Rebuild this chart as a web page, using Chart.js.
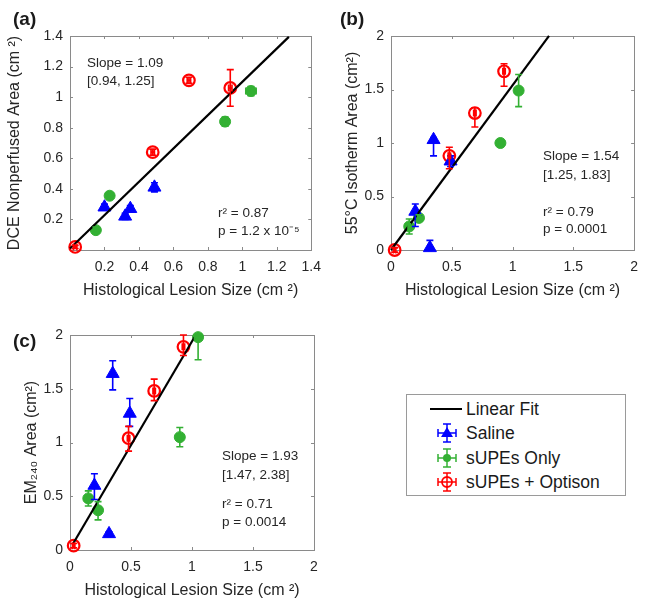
<!DOCTYPE html>
<html>
<head>
<meta charset="utf-8">
<script src="https://cdn.jsdelivr.net/npm/chart.js@4.4.1/dist/chart.umd.min.js"></script>
<style>
  html, body { margin: 0; padding: 0; background: #fff; }
  #wrap { position: relative; width: 647px; height: 602px; overflow: hidden; font-family: "Liberation Sans", Arial, sans-serif; color: #262626; }
  canvas { position: absolute; }
  .plabel { position: absolute; font-weight: bold; font-size: 19px; color: #1a1a1a; line-height: 1; }
  #legend { position: absolute; left: 406px; top: 394px; width: 218px; height: 100px; border: 1px solid #9a9a9a; background: #fff; }
  .lrow { position: absolute; left: 0; height: 20px; font-size: 17.5px; line-height: 20px; color: #1a1a1a; }
  .lrow span { position: absolute; left: 59px; white-space: nowrap; }
  .lrow svg { position: absolute; left: 22px; top: 0; }
</style>
</head>
<body>
<div id="wrap">
  <canvas id="ca" width="330" height="300" style="left:0;top:0"></canvas>
  <canvas id="cb" width="326" height="300" style="left:321px;top:0"></canvas>
  <canvas id="cc" width="330" height="302" style="left:0;top:300px"></canvas>
  <div class="plabel" style="left:13px;top:9px">(a)</div>
  <div class="plabel" style="left:340px;top:9px">(b)</div>
  <div class="plabel" style="left:13px;top:331px">(c)</div>
  <div id="legend">
    <div class="lrow" style="top:4px"><svg width="36" height="20"><line x1="1" y1="10" x2="33" y2="10" stroke="#000" stroke-width="2"/></svg><span>Linear Fit</span></div>
    <div class="lrow" style="top:28px"><svg width="36" height="20"><g stroke="#0000ff" stroke-width="1.5"><line x1="18" y1="1" x2="18" y2="19"/><line x1="14" y1="1" x2="22" y2="1"/><line x1="14" y1="19" x2="22" y2="19"/><line x1="9" y1="10" x2="27" y2="10"/><line x1="9" y1="6" x2="9" y2="14"/><line x1="27" y1="6" x2="27" y2="14"/></g><polygon points="18,4 24,14 12,14" fill="#0000ff"/></svg><span>Saline</span></div>
    <div class="lrow" style="top:53px"><svg width="36" height="20"><g stroke="#33b033" stroke-width="1.5"><line x1="18" y1="1" x2="18" y2="19"/><line x1="14" y1="1" x2="22" y2="1"/><line x1="14" y1="19" x2="22" y2="19"/><line x1="9" y1="10" x2="27" y2="10"/><line x1="9" y1="6" x2="9" y2="14"/><line x1="27" y1="6" x2="27" y2="14"/></g><circle cx="18" cy="10" r="4" fill="#33b033"/></svg><span>sUPEs Only</span></div>
    <div class="lrow" style="top:77px"><svg width="36" height="20"><g stroke="#ff0000" stroke-width="1.5"><line x1="18" y1="1" x2="18" y2="19"/><line x1="14" y1="1" x2="22" y2="1"/><line x1="14" y1="19" x2="22" y2="19"/><line x1="9" y1="10" x2="27" y2="10"/><line x1="9" y1="6" x2="9" y2="14"/><line x1="27" y1="6" x2="27" y2="14"/></g><circle cx="18" cy="10" r="5" fill="none" stroke="#ff0000" stroke-width="1.8"/></svg><span>sUPEs + Optison</span></div>
  </div>
</div>
<script>
// ---------- DATA ----------
// Histological lesion size (cm^2), per group
const salineX  = [0.20, 0.32, 0.35, 0.49];
const supesX   = [0.15, 0.23, 0.90, 1.05];
const optisonX = [0.03, 0.48, 0.69, 0.93];
const salineXErr  = [0.01, 0.01, 0.01, 0.01];
const supesXErr   = [0.01, 0.01, 0.01, 0.03];
const optisonXErr = [0.01, 0.01, 0.01, 0.01];

// (a) DCE nonperfused area
const dceSaline  = [0.28, 0.22, 0.27, 0.41];
const dceSupes   = [0.13, 0.355, 0.84, 1.04];
const dceOptison = [0.02, 0.64, 1.11, 1.06];
const dceSalineLo  = [0.02, 0.02, 0.02, 0.03], dceSalineHi  = [0.02, 0.02, 0.02, 0.03];
const dceSupesLo   = [0.02, 0.02, 0.03, 0.03], dceSupesHi   = [0.02, 0.02, 0.03, 0.03];
const dceOptisonLo = [0.01, 0.02, 0.02, 0.12], dceOptisonHi = [0.01, 0.02, 0.02, 0.12];

// (b) 55°C isotherm area
const isoSaline  = [0.36, 0.02, 1.03, 0.83];
const isoSupes   = [0.22, 0.30, 1.00, 1.49];
const isoOptison = [0.00, 0.88, 1.28, 1.67];
const isoSalineLo  = [0.14, 0.00, 0.15, 0.05], isoSalineHi  = [0.07, 0.07, 0.02, 0.05];
const isoSupesLo   = [0.07, 0.03, 0.02, 0.15], isoSupesHi   = [0.07, 0.03, 0.02, 0.15];
const isoOptisonLo = [0.02, 0.12, 0.13, 0.14], isoOptisonHi = [0.02, 0.08, 0.05, 0.07];

// (c) EM240 area
const emSaline  = [0.60, 0.15, 1.64, 1.27];
const emSupes   = [0.48, 0.37, 1.05, 1.98];
const emOptison = [0.04, 1.04, 1.48, 1.89];
const emSalineLo  = [0.13, 0.02, 0.15, 0.12], emSalineHi  = [0.11, 0.02, 0.12, 0.14];
const emSupesLo   = [0.07, 0.09, 0.09, 0.21], emSupesHi   = [0.07, 0.08, 0.09, 0.02];
const emOptisonLo = [0.02, 0.12, 0.09, 0.08], emOptisonHi = [0.02, 0.11, 0.11, 0.11];

// Linear fits: slope, intercept, x-range
const fitA = { slope: 1.09, intercept: 0.01, x0: 0.00, x1: 1.27 };
const fitB = { slope: 1.54, intercept: 0.00, x0: 0.00, x1: 1.30 };
const fitC = { slope: 1.93, intercept: 0.01, x0: 0.02, x1: 1.02 };

// Tick values / labels
const ticksA = [0.2, 0.4, 0.6, 0.8, 1, 1.2, 1.4];
const ticksALabels = ['0.2', '0.4', '0.6', '0.8', '1', '1.2', '1.4'];
const ticksBC = [0, 0.5, 1, 1.5, 2];
const ticksBCLabels = ['0', '0.5', '1', '1.5', '2'];

const annotA = ['Slope = 1.09', '[0.94, 1.25]', 'r\u00B2 = 0.87', 'p = 1.2 x 10\u207B\u2075'];
const annotB = ['Slope = 1.54', '[1.25, 1.83]', 'r\u00B2 = 0.79', 'p = 0.0001'];
const annotC = ['Slope = 1.93', '[1.47, 2.38]', 'r\u00B2 = 0.71', 'p = 0.0014'];

// ---------- STYLE ----------
const BLUE = '#0000ff', GREEN = '#33b033', RED = '#ff0000';
const FONT = '"Liberation Sans", Arial, sans-serif';
const TXT = '#262626';
const BOX = '#8a8a8a';

function pts(xs, ys) { return xs.map((x, i) => ({ x: x, y: ys[i] })); }
function fitPts(f) { return [f.x0, f.x1].map(x => ({ x: x, y: f.slope * x + f.intercept })); }

const errorBars = {
  id: 'errorBars',
  afterDatasetsDraw(chart) {
    const ctx = chart.ctx, xs = chart.scales.x, ys = chart.scales.y;
    chart.data.datasets.forEach(ds => {
      if (!ds.err) return;
      ctx.save();
      ctx.strokeStyle = ds.borderColor; ctx.lineWidth = 1.6;
      ds.data.forEach((p, j) => {
        const px = xs.getPixelForValue(p.x), py = ys.getPixelForValue(p.y);
        const yl = ys.getPixelForValue(p.y - ds.err.lo[j]), yh = ys.getPixelForValue(p.y + ds.err.hi[j]);
        const xl = xs.getPixelForValue(p.x - ds.err.x[j]), xh = xs.getPixelForValue(p.x + ds.err.x[j]);
        const c = 3.5;
        ctx.beginPath();
        ctx.moveTo(px, yl); ctx.lineTo(px, yh);
        ctx.moveTo(px - c, yl); ctx.lineTo(px + c, yl);
        ctx.moveTo(px - c, yh); ctx.lineTo(px + c, yh);
        ctx.moveTo(xl, py); ctx.lineTo(xh, py);
        ctx.moveTo(xl, py - c); ctx.lineTo(xl, py + c);
        ctx.moveTo(xh, py - c); ctx.lineTo(xh, py + c);
        ctx.stroke();
      });
      ctx.restore();
    });
  }
};

const boxPlugin = {
  id: 'boxPlugin',
  beforeDatasetsDraw(chart) {
    const ctx = chart.ctx, a = chart.chartArea;
    ctx.save();
    ctx.strokeStyle = BOX; ctx.lineWidth = 1;
    ctx.strokeRect(Math.round(a.left) + 0.5, Math.round(a.top) + 0.5, Math.round(a.right - a.left), Math.round(a.bottom - a.top));
    const tl = 3;
    ctx.beginPath();
    chart.scales.x.ticks.forEach(t => {
      const x = Math.round(chart.scales.x.getPixelForValue(t.value)) + 0.5;
      ctx.moveTo(x, a.bottom); ctx.lineTo(x, a.bottom - tl);
      ctx.moveTo(x, a.top); ctx.lineTo(x, a.top + tl);
    });
    chart.scales.y.ticks.forEach(t => {
      const y = Math.round(chart.scales.y.getPixelForValue(t.value)) + 0.5;
      ctx.moveTo(a.left, y); ctx.lineTo(a.left + tl, y);
      ctx.moveTo(a.right, y); ctx.lineTo(a.right - tl, y);
    });
    ctx.stroke();
    ctx.restore();
  }
};

const annotPlugin = {
  id: 'annot',
  afterDraw(chart, args, opts) {
    const ctx = chart.ctx;
    ctx.save();
    ctx.fillStyle = TXT; ctx.font = '13.5px ' + FONT; ctx.textBaseline = 'middle'; ctx.textAlign = 'left';
    opts.lines.forEach((t, i) => ctx.fillText(t, opts.pos[i][0], opts.pos[i][1]));
    ctx.restore();
  }
};

function makeChart(id, cfg) {
  const scaleCommon = (ticks, labels, min, max) => ({
    type: 'linear', min: min, max: max,
    grid: { display: false, drawTicks: false },
    border: { display: false },
    afterBuildTicks: s => { s.ticks = ticks.map(v => ({ value: v })); },
    ticks: { color: TXT, font: { family: FONT, size: 14 }, padding: 7, autoSkip: false, maxRotation: 0,
             callback: (v) => { const k = ticks.indexOf(v); return k >= 0 ? labels[k] : ''; } }
  });
  const xs = scaleCommon(cfg.ticks, cfg.labels, cfg.min, cfg.max);
  xs.ticks.padding = 9;
  xs.afterFit = s => { s.height = cfg.xh; };
  xs.title = { display: true, text: cfg.xTitle, color: TXT, font: { family: FONT, size: 16 }, padding: { top: 0, bottom: cfg.xtp } };
  const ys = scaleCommon(cfg.ticks, cfg.labels, cfg.min, cfg.max);
  ys.afterFit = s => { s.width = 70; };
  ys.title = { display: true, text: cfg.yTitle, color: TXT, font: { family: FONT, size: 16 }, padding: { top: cfg.ytp, bottom: 0 } };

  const sets = [
    { label: 'Linear Fit', type: 'line', data: fitPts(cfg.fit), borderColor: '#000', borderWidth: 2.2, pointRadius: 0, showLine: true, order: 0 },
    { label: 'Saline', data: pts(salineX, cfg.saline), pointStyle: 'triangle', radius: 7.5, backgroundColor: BLUE, borderColor: BLUE, borderWidth: 1,
      err: { lo: cfg.salineLo, hi: cfg.salineHi, x: salineXErr } },
    { label: 'sUPEs Only', data: pts(supesX, cfg.supes), pointStyle: 'circle', radius: 5.5, backgroundColor: GREEN, borderColor: GREEN, borderWidth: 1,
      err: { lo: cfg.supesLo, hi: cfg.supesHi, x: supesXErr } },
    { label: 'sUPEs + Optison', data: pts(optisonX, cfg.optison), pointStyle: 'circle', radius: 5.8, backgroundColor: 'rgba(255,255,255,0)', borderColor: RED, borderWidth: 2.2,
      err: { lo: cfg.optisonLo, hi: cfg.optisonHi, x: optisonXErr } }
  ];
  sets.forEach(d => { d.clip = false; d.pointHoverRadius = d.radius; });

  return new Chart(document.getElementById(id), {
    type: 'scatter',
    data: { datasets: sets },
    options: {
      responsive: false, animation: false, events: [],
      layout: { padding: { left: 0, top: cfg.top, right: cfg.right, bottom: 0 } },
      scales: { x: xs, y: ys },
      plugins: { legend: { display: false }, tooltip: { enabled: false },
                 annot: { lines: cfg.annot, pos: cfg.annotPos } }
    },
    plugins: [boxPlugin, errorBars, annotPlugin]
  });
}

makeChart('ca', {
  ticks: ticksA, labels: ticksALabels, min: 0, max: 1.4, top: 36, right: 15, xh: 50, xtp: 0, ytp: 5,
  xTitle: 'Histological Lesion Size (cm \u00B2)', yTitle: 'DCE Nonperfused Area (cm \u00B2)',
  fit: fitA,
  saline: dceSaline, salineLo: dceSalineLo, salineHi: dceSalineHi,
  supes: dceSupes, supesLo: dceSupesLo, supesHi: dceSupesHi,
  optison: dceOptison, optisonLo: dceOptisonLo, optisonHi: dceOptisonHi,
  annot: annotA, annotPos: [[87, 63], [87, 81], [218, 213], [218, 231]]
});

makeChart('cb', {
  ticks: ticksBC, labels: ticksBCLabels, min: 0, max: 2, top: 36, right: 11, xh: 50, xtp: 0, ytp: 22,
  xTitle: 'Histological Lesion Size (cm \u00B2)', yTitle: '55\u00B0C Isotherm Area (cm\u00B2)',
  fit: fitB,
  saline: isoSaline, salineLo: isoSalineLo, salineHi: isoSalineHi,
  supes: isoSupes, supesLo: isoSupesLo, supesHi: isoSupesHi,
  optison: isoOptison, optisonLo: isoOptisonLo, optisonHi: isoOptisonHi,
  annot: annotB, annotPos: [[222, 156], [222, 175], [222, 212], [222, 229]]
});

makeChart('cc', {
  ticks: ticksBC, labels: ticksBCLabels, min: 0, max: 2, top: 35, right: 16, xh: 52, xtp: 2, ytp: 22,
  xTitle: 'Histological Lesion Size (cm \u00B2)', yTitle: 'EM\u2082\u2084\u2080 Area (cm\u00B2)',
  fit: fitC,
  saline: emSaline, salineLo: emSalineLo, salineHi: emSalineHi,
  supes: emSupes, supesLo: emSupesLo, supesHi: emSupesHi,
  optison: emOptison, optisonLo: emOptisonLo, optisonHi: emOptisonHi,
  annot: annotC, annotPos: [[222, 156], [222, 175], [222, 204], [222, 222]]
});
</script>
</body>
</html>
